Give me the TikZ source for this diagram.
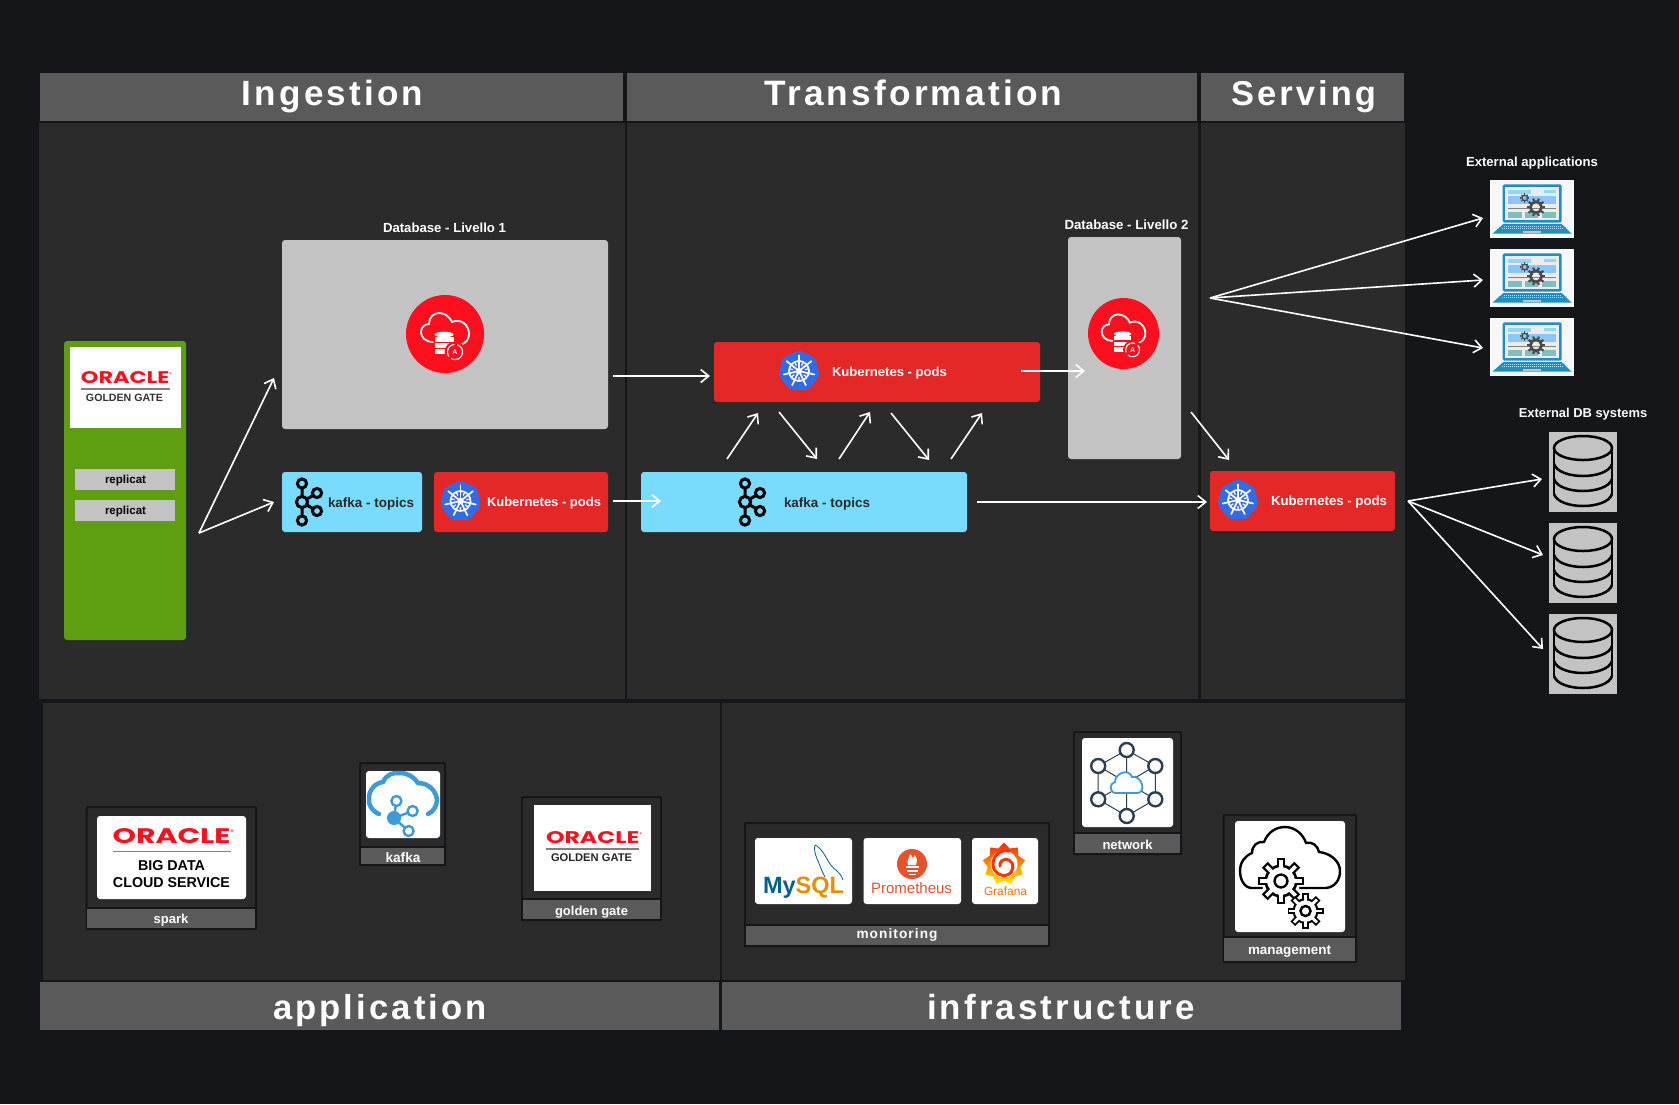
\documentclass[tikz,border=0pt]{standalone}
\usepackage{fontspec}
\usepackage{graphicx}
\usetikzlibrary{arrows.meta,shapes.geometric}
\setmainfont{Liberation Sans}
\newfontfamily\hdrfont[LetterSpace=9]{Liberation Sans}
\newfontfamily\monfont[LetterSpace=8]{Liberation Sans}
\newfontfamily\logofont{Poppins}
\definecolor{bgc}{HTML}{14161A}
\definecolor{panelc}{HTML}{2B2B2B}
\definecolor{headc}{HTML}{5A5A5A}
\definecolor{greyc}{HTML}{C3C3C3}
\definecolor{k8sred}{HTML}{E42727}
\definecolor{k8sblue}{HTML}{326CE5}
\definecolor{kafkac}{HTML}{7ADCFC}
\definecolor{greenc}{HTML}{609E11}
\definecolor{orared}{HTML}{FF0F1E}
\definecolor{lapblue}{HTML}{1E8FC4}
\definecolor{cloudblue}{HTML}{3B9AD9}
\definecolor{netdark}{HTML}{2C3E50}
\definecolor{gearc}{HTML}{4A4A4A}
\definecolor{mysqlblue}{HTML}{00618A}
\definecolor{mysqlor}{HTML}{E48E00}
\definecolor{promc}{HTML}{E6522C}
\tikzset{
  flat/.style={fill=#1},
  rbox/.style={fill=#1, rounded corners=3pt},
  frame/.style={fill=panelc, draw=bgc, line width=2pt, rounded corners=1pt},
  lbar/.style={fill=headc, draw=bgc, line width=1.5pt},
  card/.style={fill=white, rounded corners=3pt},
  flow/.style={draw=white, line width=1.6pt, -{Straight Barb[length=8pt,width=13pt,line width=1.6pt]}},
  lab/.style={anchor=base, inner sep=0, outer sep=0, font=\bfseries, text=white},
  darklab/.style={anchor=base, inner sep=0, outer sep=0, font=\bfseries, text=panelc},
}
% name, style, x1, y1, x2, y2
\newcommand\bx[6]{%
  \pgfmathsetmacro\tkbw{#5-#3}\pgfmathsetmacro\tkbh{#6-#4}%
  \node[#2, anchor=north west, minimum width=\tkbw pt, minimum height=\tkbh pt, inner sep=0, outer sep=0] (#1) at (#3,#4) {};}
% name, style, center x, baseline y, width, text
\newcommand\lbl[6]{\node[#2] (#1) at (#3,#4) {\resizebox{#5pt}{!}{#6}};}
% name, x1, x2, ytop, ybot
\newcommand\oraclelogo[5]{%
  \pgfmathsetmacro\tkow{#3-#2}\pgfmathsetmacro\tkoh{#5-#4}%
  \pgfmathsetmacro\tkox{(#2+#3)/2}\pgfmathsetmacro\tkoy{(#4+#5)/2}%
  \node[inner sep=0, outer sep=0, text=orared] (#1) at (\tkox,\tkoy) {\resizebox{\tkow pt}{\tkoh pt}{\logofont\bfseries ORACLE\raisebox{.5em}{\scalebox{.22}{®}}}};}
% x y r
\newcommand\kicon[4]{%
  \node[regular polygon, regular polygon sides=7, minimum size=#4*2.1pt, fill=k8sblue, rounded corners=3pt, inner sep=0] (#1) at (#2,#3) {};
  \draw[white, line width=#4*0.085pt] (#2,#3) circle[radius=#4*0.5];
  \fill[white] (#2,#3) circle[radius=#4*0.16];
  \foreach \k in {0,...,6}{
    \draw[white, line width=#4*0.085pt, line cap=round] (#2,#3) ++(-90+\k*51.43:#4*0.12) -- ++(-90+\k*51.43:#4*0.66);
    \draw[white, line width=#4*0.06pt] (#2,#3) ++(-90+25.7+\k*51.43:#4*0.3) -- ++(-90+25.7+\k*51.43:#4*0.2);
  }}
% x y (centre ring)
\newcommand\kfk[2]{%
  \begin{scope}[shift={(#1,#2)}, line width=3pt, draw=black]
    \draw (0,0) -- (0,-18) (0,0) -- (0,18.5) (0,0) -- (15,-9) (0,0) -- (15,9);
    \filldraw[fill=kafkac, draw=black] (0,0) circle[radius=5.6];
    \filldraw[fill=kafkac, draw=black] (0,-18.5) circle[radius=4.6];
    \filldraw[fill=kafkac, draw=black] (0,18.5) circle[radius=4.6];
    \filldraw[fill=kafkac, draw=black] (15,-9) circle[radius=4.6];
    \filldraw[fill=kafkac, draw=black] (15,9) circle[radius=4.6];
  \end{scope}}
% name x y scale
\newcommand\oracloud[4]{%
  \node[circle, fill=orared, minimum size=#4*78pt, inner sep=0] (#1) at (#2,#3) {};
  \begin{scope}[shift={(#2,#3)}, scale=#4]
    \draw[white, line width=1.8pt, line cap=round] (-12,8) .. controls (-20,8) and (-24,3) .. (-24,-2) .. controls (-24,-7) and (-20,-10) .. (-16,-10) .. controls (-16,-17) and (-11,-21) .. (-6,-21) .. controls (0,-21) and (5,-17) .. (7,-12) .. controls (16,-16) and (24,-9) .. (24,0) .. controls (24,5) and (21,9) .. (17,10);
    \fill[white] (-1,0.5) ellipse[x radius=9.5, y radius=2.8];
    \fill[white] (-10.5,2.5) rectangle (8.5,7.5);
    \fill[white] (-10.5,9) rectangle (8.5,13.5);
    \fill[white] (-10.5,15) rectangle (6,20);
    \fill[orared] (10,18) circle[radius=10.5];
    \draw[white, line width=1.2pt, dash pattern=on 16pt off 3pt] (10,18) circle[radius=7.6];
    \node[inner sep=0, text=white, font=\bfseries\fontsize{7}{7}\selectfont] (#1a) at (10,18) {A};
  \end{scope}}
\newcommand\gearsolid[4]{%
  \draw[gearc, line width=#3*0.3pt] (#1,#2) circle[radius=#3*0.62];
  \foreach \k in {1,...,#4}{\draw[gearc, line width=#3*0.24pt] (#1,#2) ++(\k*360/#4:#3*0.72) -- ++(\k*360/#4:#3*0.3);}}
\newcommand\laptop[2]{%
  \bx{#1}{flat=white!97!black}{1490}{#2}{1574}{#2+58}
  \begin{scope}[shift={(1490,#2)}]
    \fill[lapblue, rounded corners=1.5pt] (12.7,4.3) rectangle (71.7,42.7);
    \fill[white!85!gray] (15,7.3) rectangle (69,40);
    \fill[cyan!45!white] (18.3,10.3) rectangle (40.7,14);
    \fill[cyan!45!white] (54,10.3) rectangle (66,13);
    \fill[blue!50!cyan!45!white] (18.3,15.7) rectangle (66,24);
    \draw[gray, line width=.8pt] (18.3,28.5) -- (66,28.5);
    \fill[teal!50!white] (18.3,32.3) rectangle (31.7,38);
    \fill[teal!50!white] (35,32.3) rectangle (48.3,38);
    \fill[teal!50!white] (52,32.3) rectangle (66,38);
    \gearsolid{46}{27.3}{9}{10}
    \gearsolid{34.7}{18}{4.5}{8}
    \fill[lapblue] (13.3,44) -- (71.7,44) -- (81.5,53.5) -- (2.7,53.5) -- cycle;
    \draw[white!70!lapblue, line width=.5pt, dash pattern=on 1pt off 1pt] (14,46.5) -- (70.5,46.5) (12,48.5) -- (73,48.5);
    \fill[greyc] (33,50.5) rectangle (50.7,53);
  \end{scope}}
\newcommand\dbicon[2]{%
  \bx{#1}{flat=greyc}{1549}{#2}{1617}{#2+80}
  \begin{scope}[shift={(1549,#2)}, line width=2.5pt, black]
    \draw (34,16) ellipse[x radius=29, y radius=12];
    \draw (5,16) -- (5,62) (63,16) -- (63,62);
    \foreach \yy in {32,47,62}{\draw (5,\yy) .. controls (10,\yy+16) and (58,\yy+16) .. (63,\yy);}
  \end{scope}}
\newcommand\outlinegear[4]{%
  \fill[black] (#1,#2) circle[radius=#3*0.72];
  \foreach \k in {1,...,#4}{\draw[black, line width=#3*0.36pt] (#1,#2) ++(\k*360/#4:#3*0.6) -- ++(\k*360/#4:#3*0.4);}
  \fill[white] (#1,#2) circle[radius=#3*0.6];
  \foreach \k in {1,...,#4}{\draw[white, line width=#3*0.16pt] (#1,#2) ++(\k*360/#4:#3*0.55) -- ++(\k*360/#4:#3*0.35);}
  \draw[black, line width=2.4pt] (#1,#2) circle[radius=#3*0.28];}
\begin{document}
\begin{tikzpicture}[x=1pt,y=-1pt]
\useasboundingbox (0,0) rectangle (1679,1104);
\fill[bgc] (0,0) rectangle (1679,1104);
% headers and panels
\bx{hIng}{flat=headc}{40}{73}{623}{121}
\bx{hTra}{flat=headc}{627}{73}{1197}{121}
\bx{hSer}{flat=headc}{1201}{73}{1404}{121}
\bx{pIng}{flat=panelc}{39}{123}{624.5}{699}
\bx{pTra}{flat=panelc}{627}{123}{1198}{699}
\bx{pSer}{flat=panelc}{1201}{123}{1405}{699}
\bx{pApp}{flat=panelc}{43}{703}{720}{980}
\bx{pInf}{flat=panelc}{722}{703}{1405}{980}
\bx{hApp}{flat=headc}{40}{982}{719}{1030}
\bx{hInf}{flat=headc}{722}{982}{1401}{1030}
\lbl{tIng}{lab}{332.5}{105}{181}{\hdrfont\bfseries\fontsize{32}{32}\selectfont Ingestion}
\lbl{tTra}{lab}{913.5}{105}{298}{\hdrfont\bfseries\fontsize{32}{32}\selectfont Transformation}
\lbl{tSer}{lab}{1303.5}{105}{145}{\hdrfont\bfseries\fontsize{32}{32}\selectfont Serving}
\lbl{tApp}{lab}{380}{1019}{214}{\hdrfont\bfseries\fontsize{32}{32}\selectfont application}
\lbl{tInf}{lab}{1061}{1019}{268}{\hdrfont\bfseries\fontsize{32}{32}\selectfont infrastructure}
% golden gate sidebar
\bx{ggside}{rbox=greenc}{64}{341}{186}{640}
\bx{ggwhite}{flat=white}{70}{347}{181}{428}
\oraclelogo{ggoracle}{81}{172}{372}{384}
\draw[gray, line width=1.5pt] (81,389) -- (170,389);
\lbl{ggtext}{anchor=base,inner sep=0,font=\bfseries,text=black!80}{124.5}{401}{77}{GOLDEN GATE}
\bx{rep1}{flat=greyc}{75}{469}{175}{490}
\bx{rep2}{flat=greyc}{75}{500}{175}{521}
\lbl{trep1}{darklab,text=black}{125.5}{483.5}{41}{replicat}
\lbl{trep2}{darklab,text=black}{125.5}{514.5}{41}{replicat}
% ingestion
\bx{db1}{rbox=greyc}{282}{240}{608}{429}
\oracloud{ora1}{445}{334}{1}
\lbl{tdb1}{lab}{444.5}{232}{123}{Database - Livello 1}
\bx{kaf1}{rbox=kafkac}{282}{472}{422}{532}
\kfk{302}{502}
\lbl{tkaf1}{darklab}{371}{507}{86}{kafka - topics}
\bx{kub1}{rbox=k8sred}{434}{472}{608}{532}
\kicon{ic1}{460.5}{501}{20}
\lbl{tkub1}{lab}{544}{506}{114}{Kubernetes - pods}
% transformation
\bx{kub2}{rbox=k8sred}{714}{342}{1040}{402}
\kicon{ic2}{799}{371}{20}
\lbl{tkub2}{lab}{889.5}{376}{115}{Kubernetes - pods}
\bx{kaf2}{rbox=kafkac}{641}{472}{967}{532}
\kfk{745}{502}
\lbl{tkaf2}{darklab}{827}{507}{86}{kafka - topics}
% serving
\bx{db2}{rbox=greyc}{1068}{237}{1181}{459}
\oracloud{ora2}{1123.5}{333.5}{0.91}
\lbl{tdb2}{lab}{1126.5}{229}{124}{Database - Livello 2}
\bx{kub3}{rbox=k8sred}{1210}{471}{1395}{531}
\kicon{ic3}{1238}{500}{20}
\lbl{tkub3}{lab}{1329}{505}{116}{Kubernetes - pods}
% externals
\lbl{text1}{lab}{1532}{166}{132}{External applications}
\laptop{lap1}{180}
\laptop{lap2}{249}
\laptop{lap3}{318}
\lbl{text2}{lab}{1583}{417}{128.5}{External DB systems}
\dbicon{dbx1}{432}
\dbicon{dbx2}{523}
\dbicon{dbx3}{614}
% spark
\bx{fSpark}{frame}{86.5}{807}{256}{929}
\bx{lSpark}{lbar}{86.5}{908}{256}{929}
\bx{cSpark}{card}{97}{816}{246}{899}
\oraclelogo{oSpark}{112.6}{234}{829}{844}
\draw[gray, line width=1.5pt] (112.6,851.5) -- (231,851.5);
\lbl{tBig}{anchor=base,inner sep=0,font=\bfseries,text=black}{171.5}{870}{67}{BIG DATA}
\lbl{tCloud}{anchor=base,inner sep=0,font=\bfseries,text=black}{171.5}{887}{117}{CLOUD SERVICE}
\lbl{tSpark}{lab}{171}{923}{35}{spark}
% kafka
\bx{fKaf}{frame}{360}{763}{445}{865}
\bx{lKaf}{lbar}{360}{847}{445}{865}
\bx{cKaf}{card}{366}{771}{440}{838}
\begin{scope}[cloudblue]
  \draw[line width=4.5pt, line cap=round] (379,814) .. controls (372,811) and (368,805) .. (369,798) .. controls (369,790) and (375,783) .. (383,782) .. controls (386,775) and (393,772) .. (400,773) .. controls (408,773) and (414,777) .. (418,783) .. controls (428,783) and (436,790) .. (437,800) .. controls (437,806) and (433,812) .. (428,814);
  \draw[line width=2.4pt] (394,818) -- (396.4,801) (394,818) -- (412.6,811) (394,818) -- (408.6,831);
  \fill (394,818) circle[radius=7];
  \filldraw[fill=white,line width=2.4pt] (396.4,801) circle[radius=5];
  \filldraw[fill=white,line width=2.4pt] (412.6,811) circle[radius=5];
  \filldraw[fill=white,line width=2.4pt] (408.6,831) circle[radius=5];
\end{scope}
\lbl{tKaf}{lab}{403}{862}{35}{kafka}
% golden gate
\bx{fGG}{frame}{522}{797}{661}{920}
\bx{lGG}{lbar}{522}{899}{661}{920}
\bx{cGG}{flat=white}{534}{805}{651}{891}
\oraclelogo{oGG}{546}{642}{832}{844}
\draw[gray, line width=1.5pt] (546,849) -- (639,849);
\lbl{tGGw}{anchor=base,inner sep=0,font=\bfseries,text=black!85}{591.5}{861}{81}{GOLDEN GATE}
\lbl{tGG}{lab}{591.5}{915}{73}{golden gate}
% monitoring
\bx{fMon}{frame}{745}{823}{1049}{946}
\bx{lMon}{lbar}{745}{925}{1049}{946}
\bx{cMy}{card}{755}{838}{852}{904}
\bx{cPr}{card}{863.5}{838}{961}{904}
\bx{cGr}{card}{972}{838}{1038}{904}
\lbl{tMy}{anchor=base,inner sep=0,font=\bfseries}{803.5}{893}{81}{\fontsize{28}{28}\selectfont\textcolor{mysqlblue}{My}\textcolor{mysqlor}{SQL}}
\draw[mysqlblue, line width=.8pt] (815,845) .. controls (813,852) and (818,860) .. (820,866) .. controls (822,872) and (824,874) .. (825,877) (815,845) .. controls (822,848) and (826,858) .. (830,864) .. controls (834,870) and (840,871) .. (843,880);
\fill[promc] (912,864) circle[radius=15];
\fill[white] (905.5,866) rectangle (918.5,868);
\fill[white] (906.5,870) rectangle (917.5,871.5);
\fill[white] (908.5,873.5) rectangle (915.5,875);
\fill[white] (908,865) .. controls (906,860) and (910,858) .. (910,854) .. controls (912,856) and (913,857) .. (912.5,858) .. controls (914,857) and (915,856) .. (914.5,855) .. controls (918,859) and (917,862) .. (916,865) -- cycle;
\lbl{tPr}{anchor=base,inner sep=0,text=promc}{911.5}{893}{81}{\fontsize{16}{16}\selectfont Prometheus}
\node[star, star points=9, star point ratio=1.3, minimum size=43pt, inner sep=0, top color=red!70!orange, bottom color=yellow!85!orange, shading angle=0] (grafIcon) at (1004,864) {};
\fill[white] (1004,864) circle[radius=13.5];
\draw[red!60!orange, line width=3pt, line cap=round] (1009,851) .. controls (1000,849) and (993,856) .. (993,864) .. controls (993,872) and (1000,877) .. (1007,875) .. controls (1014,873) and (1015,863) .. (1009,860) .. controls (1004,858) and (999,861) .. (1000,866);
\lbl{tGr}{anchor=base,inner sep=0,text=orange!90!red}{1005.5}{895}{43}{\fontsize{12}{12}\selectfont Grafana}
\lbl{tMon}{lab}{897}{938}{81}{\monfont\bfseries monitoring}
% network
\bx{fNet}{frame}{1074}{732}{1181}{854}
\bx{lNet}{lbar}{1074}{833}{1181}{854}
\bx{cNet}{card}{1082}{738}{1173}{827}
\begin{scope}[netdark]
  \draw[line width=1pt] (1126.7,750) -- (1155.3,766) -- (1155.3,799.3) -- (1126.7,816) -- (1098.2,799.3) -- (1098.2,766) -- cycle;
  \draw[line width=1pt] (1126.7,750) -- (1126.7,816) (1098.2,766) -- (1155.3,799.3) (1155.3,766) -- (1098.2,799.3);
  \foreach \px/\py in {1126.7/750,1155.3/766,1155.3/799.3,1126.7/816,1098.2/799.3,1098.2/766}{
    \filldraw[fill=white, line width=2.4pt] (\px,\py) circle[radius=7];}
\end{scope}
\filldraw[fill=white, draw=cloudblue, line width=1.8pt] (1116,793) .. controls (1109,793) and (1109,783) .. (1115,782) .. controls (1115,773) and (1129,768) .. (1132,777) .. controls (1142,775) and (1147,793) .. (1137,793) -- cycle;
\lbl{tNet}{lab}{1127.5}{849}{50}{network}
% management
\bx{fMan}{frame}{1223.5}{815}{1356}{962}
\bx{lMan}{lbar}{1223.5}{937}{1356}{962}
\bx{cMan}{card}{1235}{821}{1345}{932}
\draw[black, line width=2.4pt, line cap=round] (1262,888) -- (1252,888) .. controls (1244,888) and (1240,879) .. (1240,871) .. controls (1240,862) and (1245,856) .. (1252,853) .. controls (1252,845) and (1258,841) .. (1264,842) .. controls (1268,832) and (1276,827) .. (1285,827) .. controls (1295,827) and (1303,834) .. (1306,843) .. controls (1312,841) and (1318,846) .. (1319,852) .. controls (1330,853) and (1340,861) .. (1340,871) .. controls (1340,880) and (1335,887) .. (1326,888) -- (1300,888);
\outlinegear{1281}{881}{23}{8}
\outlinegear{1305.5}{911}{18}{8}
\lbl{tMan}{lab}{1289.5}{954}{83}{management}
% connector ends
\coordinate (a0) at (199,533);
\coordinate (a1) at (274,378);
\coordinate (a2) at (274,502);
\coordinate (b0) at (613,501);
\coordinate (b1) at (661,501);
\coordinate (c0) at (613,376);
\coordinate (c1) at (710,376);
\coordinate (d0) at (727,459); \coordinate (d1) at (758,413);
\coordinate (e0) at (779,412); \coordinate (e1) at (817,459);
\coordinate (f0) at (839,459); \coordinate (f1) at (870,412);
\coordinate (g0) at (891,413); \coordinate (g1) at (929,460);
\coordinate (h0) at (951,459); \coordinate (h1) at (982,413);
\coordinate (i0) at (1021,371); \coordinate (i1) at (1085,371);
\coordinate (j0) at (977,502); \coordinate (j1) at (1207,502);
\coordinate (k0) at (1191,412); \coordinate (k1) at (1229,460);
\coordinate (m0) at (1210,298);
\coordinate (m1) at (1483,218);
\coordinate (m2) at (1483,280);
\coordinate (m3) at (1483,348);
\coordinate (n0) at (1408,501);
\coordinate (n1) at (1542,479);
\coordinate (n2) at (1543,555);
\coordinate (n3) at (1543,649);
\draw[flow] (a0) -- (a1);
\draw[flow] (a0) -- (a2);
\draw[flow] (b0) -- (b1);
\draw[flow] (c0) -- (c1);
\draw[flow] (d0) -- (d1);
\draw[flow] (e0) -- (e1);
\draw[flow] (f0) -- (f1);
\draw[flow] (g0) -- (g1);
\draw[flow] (h0) -- (h1);
\draw[flow] (i0) -- (i1);
\draw[flow] (j0) -- (j1);
\draw[flow] (k0) -- (k1);
\draw[flow] (m0) -- (m1);
\draw[flow] (m0) -- (m2);
\draw[flow] (m0) -- (m3);
\draw[flow] (n0) -- (n1);
\draw[flow] (n0) -- (n2);
\draw[flow] (n0) -- (n3);
\end{tikzpicture}
\end{document}
